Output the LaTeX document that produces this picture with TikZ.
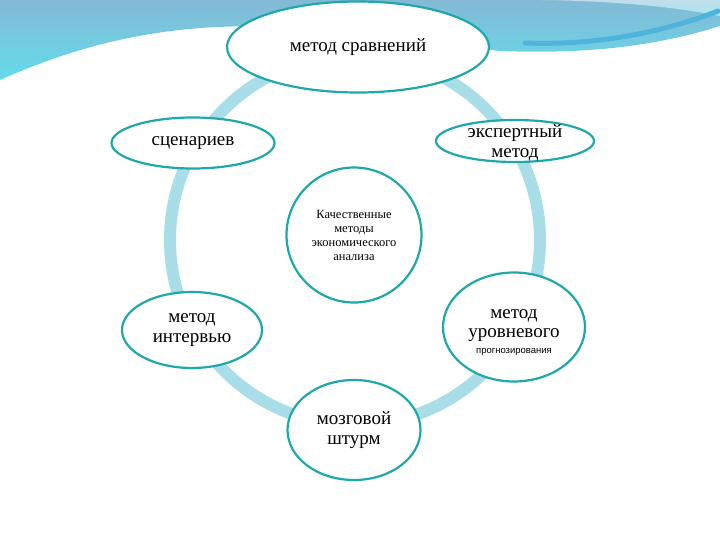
\documentclass[tikz,border=0pt]{standalone}
\usepackage{fontspec}
\setmainfont{Liberation Serif}
\newfontfamily\tinysans{Liberation Sans}
\usetikzlibrary{shapes.geometric,positioning}
\definecolor{ringblue}{HTML}{A9DEE8}
\definecolor{rimteal}{HTML}{1FA8AA}
\definecolor{skytop}{HTML}{84B9D5}
\definecolor{skylow}{HTML}{62DCEB}
\definecolor{stripe}{HTML}{4FB3DC}
\begin{document}
\begin{tikzpicture}[x=1pt,y=-1pt,
  method/.style={ellipse,draw=rimteal,line width=2.2pt,fill=white,inner sep=0pt,
    align=center,font=\fontsize{19}{20}\selectfont},
  ring/.style={draw=ringblue,line width=12pt}]
\useasboundingbox (0,0) rectangle (720,540);
% background waves
\shade[top color=skytop,bottom color=skylow]
  (0,0) -- (720,0) -- (720,26) .. controls (650,48) and (580,54) .. (500,51)
  -- (300,28) .. controls (180,20) and (90,40) .. (0,80) -- cycle;
\shade[top color=skytop!50!white,bottom color=skylow!60!white]
  (540,0) -- (720,0) -- (720,16) .. controls (670,6) and (610,1) .. (540,0);
\draw[stripe,line width=5pt,line cap=round] (525,43) .. controls (600,46) and (670,30) .. (718,11);
% ring
\draw[ring] (355,240) circle (185);
% nodes
\node[method,minimum width=262pt,minimum height=91pt] (sravn) at (358,47) {метод сравнений};
\node[method,minimum width=163pt,minimum height=51pt] (scen) at (193,143) {сценариев};
\node[method,minimum width=158pt,minimum height=42pt,
  label={[align=center,font=\fontsize{19}{20}\selectfont,yshift=-2pt]center:экспертный\\метод}] (expert) at (515,141) {};
\node[method,minimum width=135pt,minimum height=135pt,font=\fontsize{12.5}{14}\selectfont] (center) at (354,235)
  {Качественные\\методы\\экономического\\анализа};
\node[method,minimum width=140pt,minimum height=76pt] (interv) at (192,330) {метод\\интервью};
\node[method,minimum width=142pt,minimum height=109pt,
  label={[align=center,font=\fontsize{19}{19}\selectfont,yshift=-6pt]center:метод\\уровневого\\[-3pt]{\tinysans\fontsize{9.5}{9.5}\selectfont прогнозирования}}] (urov) at (514,327) {};
\node[method,minimum width=133pt,minimum height=100pt] (shturm) at (354,430) {мозговой\\штурм};
\end{tikzpicture}
\end{document}
